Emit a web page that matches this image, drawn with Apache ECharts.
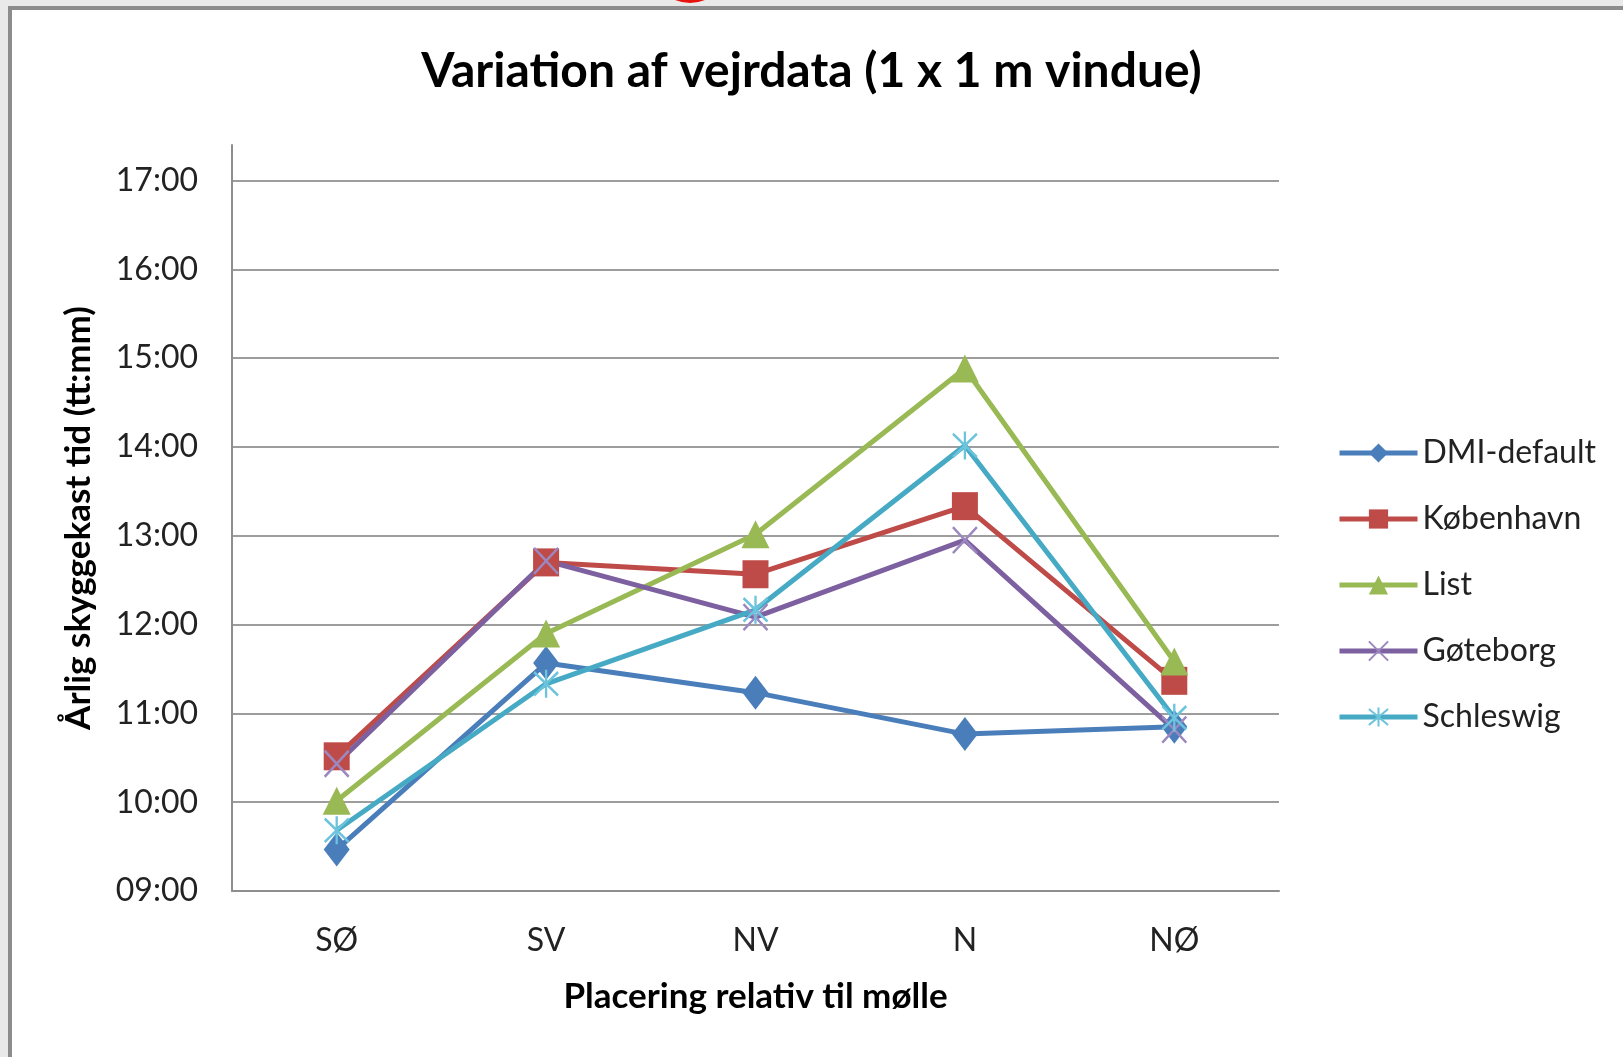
<!DOCTYPE html>
<html>
<head>
<meta charset="utf-8">
<script src="https://cdn.jsdelivr.net/npm/echarts@6/dist/echarts.min.js"></script>
<style>html,body{margin:0;padding:0;background:#fff}#c{width:1623px;height:1057px}</style>
</head>
<body>
<div id="c"></div>
<script>
// Values in minutes since midnight (tt:mm)
const categories = ['SØ', 'SV', 'NV', 'N', 'NØ'];
const seriesNames = ['DMI-default', 'København', 'List', 'Gøteborg', 'Schleswig'];
const dmiDefault = [568, 694, 674, 646, 651];
const koebenhavn = [631, 762, 754, 800, 682];
const list = [601, 714, 781, 893, 695];
const goeteborg = [626, 763, 725, 777, 649];
const schleswig = [581, 680, 730, 841, 657];
const yMin = 540, yMax = 1044, yStep = 60;

const colors = ['#4A7EBB', '#BE4B48', '#98B954', '#7D60A0', '#46AAC5'];
const xPath = 'path://M0,0 L10,10 M10,0 L0,10';
const starPath = 'path://M0,0 L10,10 M10,0 L0,10 M5,-1 L5,11';

function fmt(v) {
  const h = Math.floor(v / 60), m = Math.round(v % 60);
  return (h < 10 ? '0' : '') + h + ':' + (m < 10 ? '0' : '') + m;
}

const FONT = 'Lato';
const chart = echarts.init(document.getElementById('c'), null, {renderer: 'canvas'});

function mk(name, data, color, symbol, size, stroked, lightColor) {
  return {
    name: name, type: 'line', data: data,
    symbol: symbol, symbolSize: size, showSymbol: true,
    lineStyle: {color: color, width: 5},
    itemStyle: stroked
      ? {color: lightColor, borderColor: lightColor, borderWidth: 2.5}
      : {color: color, borderWidth: 0},
    emphasis: {disabled: true},
    animation: false
  };
}

chart.setOption({
  animation: false,
  backgroundColor: '#ffffff',
  graphic: [
    {type: 'rect', shape: {x: 0, y: 0, width: 1623, height: 1057}, style: {fill: '#e9e9e9'}, z: -10},
    {type: 'rect', shape: {x: 8, y: 6, width: 1623, height: 1057}, style: {fill: '#8c8c8c'}, z: -9},
    {type: 'rect', shape: {x: 12, y: 10, width: 1623, height: 1057}, style: {fill: '#ffffff'}, z: -8},
    {type: 'circle', shape: {cx: 690, cy: -36, r: 39}, style: {fill: '#e8120c'}, z: 10},
    {type: 'text', left: 'center', top: 48, z: 5,
      style: {text: 'Variation af vejrdata (1 x 1 m vindue)', font: 'bold 48px ' + FONT, fill: '#000', x: 0}},
    {type: 'text', x: 79, y: 518, rotation: Math.PI / 2, z: 5,
      style: {text: 'Årlig skyggekast tid (tt:mm)', font: 'bold 35px ' + FONT, fill: '#000', align: 'center', verticalAlign: 'middle'}}
  ],
  legend: {
    orient: 'vertical', left: 1332, top: 432,
    itemWidth: 78, itemHeight: 24, itemGap: 34,
    data: seriesNames,
    lineStyle: {width: 5},
    textStyle: {fontFamily: FONT, fontSize: 32, color: '#222'}
  },
  grid: {left: 232, right: 1623 - 1279, top: 145, bottom: 1057 - 891, containLabel: false},
  xAxis: {
    type: 'category', data: categories, boundaryGap: true,
    axisLine: {lineStyle: {color: '#8e8e8e', width: 2}},
    axisTick: {show: false},
    axisLabel: {fontFamily: FONT, fontSize: 32, color: '#222', margin: 34},
    name: 'Placering relativ til mølle', nameLocation: 'middle', nameGap: 88,
    nameTextStyle: {fontFamily: FONT, fontSize: 35, fontWeight: 'bold', color: '#000'}
  },
  yAxis: {
    type: 'value', min: yMin, max: yMax, interval: yStep,
    axisLine: {show: true, lineStyle: {color: '#8e8e8e', width: 2}},
    axisTick: {show: false},
    axisLabel: {fontFamily: FONT, fontSize: 32, color: '#222', margin: 34,
      formatter: function (v) { return v % 60 === 0 ? fmt(v) : ''; }},
    splitLine: {show: true, showMaxLine: false, lineStyle: {color: '#9d9d9d', width: 2}}
  },
  series: [
    mk(seriesNames[0], dmiDefault, colors[0], 'diamond', [26, 34], false),
    mk(seriesNames[1], koebenhavn, colors[1], 'rect', [26, 28], false),
    mk(seriesNames[2], list, colors[2], 'triangle', [28, 28], false),
    mk(seriesNames[3], goeteborg, colors[3], xPath, [24, 26], true, '#9c87c0'),
    mk(seriesNames[4], schleswig, colors[4], starPath, [24, 28], true, '#6cc3dc')
  ]
});
</script>
</body>
</html>
